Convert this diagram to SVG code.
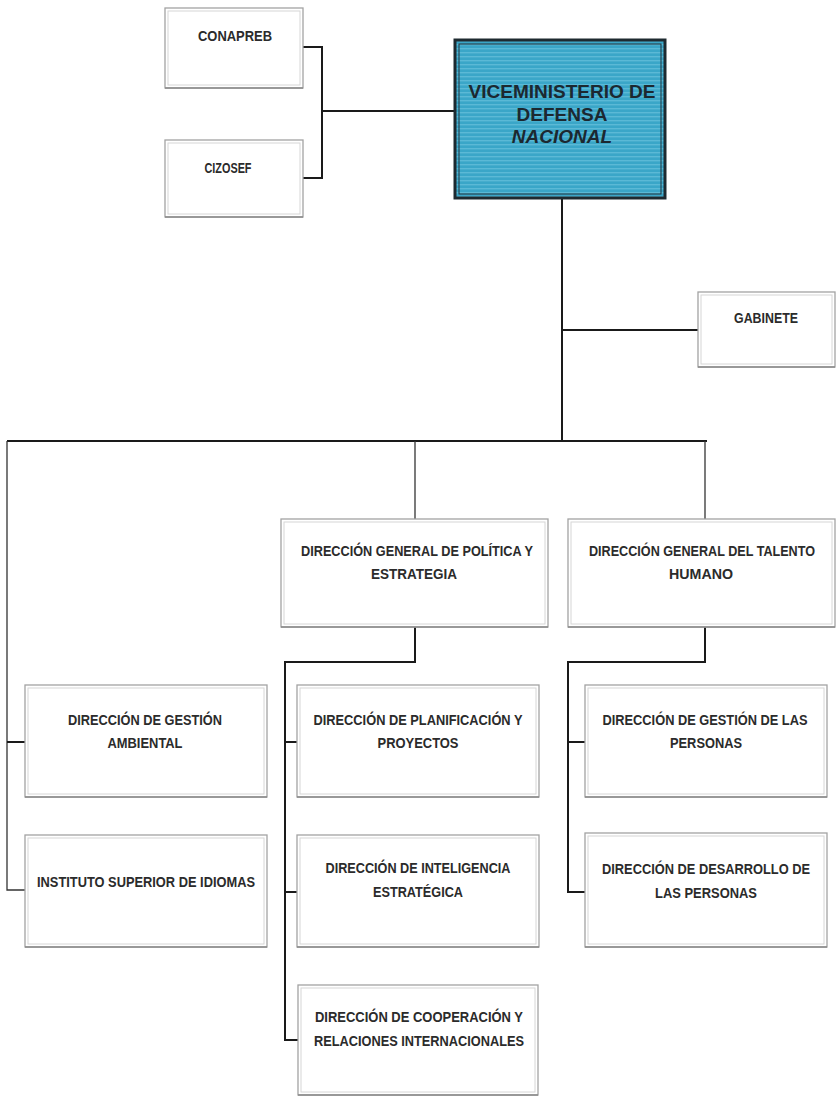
<svg xmlns="http://www.w3.org/2000/svg" width="839" height="1097" viewBox="0 0 839 1097">
<style>
.box{fill:#ffffff;stroke:#a3a3a3;stroke-width:1.3}
.inner{fill:none;stroke:#d6d6d6;stroke-width:1}
.shadow{stroke:#8a8a8a;stroke-width:1.6}
.t{font-family:"Liberation Sans",Arial,sans-serif;font-size:15px;font-weight:bold;fill:#2b2b2b;text-anchor:middle}
.s{font-size:14px}
.main{font-family:"Liberation Sans",Arial,sans-serif;font-size:19px;font-weight:bold;fill:#1c2830;text-anchor:middle}
.c{fill:none;stroke:#1a1a1a;stroke-width:2}
.ct{fill:none;stroke:#333333;stroke-width:1.3}
</style>
<defs>
<pattern id="scan" width="10" height="4" patternUnits="userSpaceOnUse">
<rect width="10" height="4" fill="#3aa6c8"/>
<rect y="0" width="10" height="1.4" fill="#5bb9d6"/>
</pattern>
</defs>
<rect width="839" height="1097" fill="#ffffff"/>
<g id="connectors">
<path class="c" d="M303 47 H322 V178 H303"/>
<path class="c" d="M322 111 H455"/>
<path class="c" d="M562 198 V441"/>
<path class="c" d="M562 330 H698"/>
<path class="c" d="M7 441 H707"/>
<path class="ct" d="M415 441 V519"/>
<path class="ct" d="M705 441 V519"/>
<path class="ct" d="M7 441 V890 H25"/>
<path class="c" d="M7 742 H25"/>
<path class="c" d="M415 627 V662 H285 V1040 H298"/>
<path class="c" d="M285 742 H297"/>
<path class="c" d="M285 892 H297"/>
<path class="c" d="M705 627 V662 H568 V892 H585"/>
<path class="c" d="M568 742 H585"/>
</g>
<g id="conapreb">
<rect class="box" x="165" y="8" width="138" height="80"/>
<rect class="inner" x="168" y="11" width="132" height="74"/>
<line class="shadow" x1="165" y1="88" x2="303" y2="88"/>
<text class="t" x="235" y="41" textLength="74" lengthAdjust="spacingAndGlyphs">CONAPREB</text>
</g>
<g id="cizosef">
<rect class="box" x="165" y="140" width="138" height="77"/>
<rect class="inner" x="168" y="143" width="132" height="71"/>
<line class="shadow" x1="165" y1="217" x2="303" y2="217"/>
<text class="t" x="228" y="173" textLength="47" lengthAdjust="spacingAndGlyphs">CIZOSEF</text>
</g>
<g id="viceministerio">
<rect x="455" y="40" width="210" height="158" fill="url(#scan)" stroke="#1e2a30" stroke-width="3"/>
<rect x="459" y="44" width="202" height="150" fill="none" stroke="#22323a" stroke-width="1"/>
<text class="main" x="562" y="98">VICEMINISTERIO DE</text>
<text class="main" x="562" y="121">DEFENSA</text>
<text class="main" x="562" y="143" font-style="italic">NACIONAL</text>
</g>
<g id="gabinete">
<rect class="box" x="698" y="292" width="137" height="75"/>
<rect class="inner" x="701" y="295" width="131" height="69"/>
<line class="shadow" x1="698" y1="367" x2="835" y2="367"/>
<text class="t" x="766" y="323" textLength="64" lengthAdjust="spacingAndGlyphs">GABINETE</text>
</g>
<g id="dg-politica">
<rect class="box" x="281" y="519" width="267" height="108"/>
<rect class="inner" x="284" y="522" width="261" height="102"/>
<line class="shadow" x1="281" y1="627" x2="548" y2="627"/>
<text class="t" x="417" y="556" textLength="232" lengthAdjust="spacingAndGlyphs">DIRECCIÓN GENERAL DE POLÍTICA Y</text>
<text class="t" x="414" y="579" textLength="86" lengthAdjust="spacingAndGlyphs">ESTRATEGIA</text>
</g>
<g id="dg-talento">
<rect class="box" x="568" y="519" width="267" height="108"/>
<rect class="inner" x="571" y="522" width="261" height="102"/>
<line class="shadow" x1="568" y1="627" x2="835" y2="627"/>
<text class="t s" x="702" y="556" textLength="226" lengthAdjust="spacingAndGlyphs">DIRECCIÓN GENERAL DEL TALENTO</text>
<text class="t" x="701" y="579" textLength="64" lengthAdjust="spacingAndGlyphs">HUMANO</text>
</g>
<g id="gestion-ambiental">
<rect class="box" x="25" y="685" width="242" height="112"/>
<rect class="inner" x="28" y="688" width="236" height="106"/>
<line class="shadow" x1="25" y1="797" x2="267" y2="797"/>
<text class="t" x="145" y="725" textLength="154" lengthAdjust="spacingAndGlyphs">DIRECCIÓN DE GESTIÓN</text>
<text class="t" x="145" y="748" textLength="75" lengthAdjust="spacingAndGlyphs">AMBIENTAL</text>
</g>
<g id="instituto-idiomas">
<rect class="box" x="25" y="835" width="242" height="112"/>
<rect class="inner" x="28" y="838" width="236" height="106"/>
<line class="shadow" x1="25" y1="947" x2="267" y2="947"/>
<text class="t" x="146" y="887" textLength="218" lengthAdjust="spacingAndGlyphs">INSTITUTO SUPERIOR DE IDIOMAS</text>
</g>
<g id="planificacion">
<rect class="box" x="297" y="685" width="242" height="112"/>
<rect class="inner" x="300" y="688" width="236" height="106"/>
<line class="shadow" x1="297" y1="797" x2="539" y2="797"/>
<text class="t" x="418" y="725" textLength="209" lengthAdjust="spacingAndGlyphs">DIRECCIÓN DE PLANIFICACIÓN Y</text>
<text class="t" x="418" y="748" textLength="81" lengthAdjust="spacingAndGlyphs">PROYECTOS</text>
</g>
<g id="inteligencia">
<rect class="box" x="297" y="835" width="242" height="112"/>
<rect class="inner" x="300" y="838" width="236" height="106"/>
<line class="shadow" x1="297" y1="947" x2="539" y2="947"/>
<text class="t" x="418" y="873" textLength="185" lengthAdjust="spacingAndGlyphs">DIRECCIÓN DE INTELIGENCIA</text>
<text class="t" x="418" y="897" textLength="90" lengthAdjust="spacingAndGlyphs">ESTRATÉGICA</text>
</g>
<g id="cooperacion">
<rect class="box" x="298" y="985" width="240" height="110"/>
<rect class="inner" x="301" y="988" width="234" height="104"/>
<line class="shadow" x1="298" y1="1095" x2="538" y2="1095"/>
<text class="t" x="419" y="1022" textLength="208" lengthAdjust="spacingAndGlyphs">DIRECCIÓN DE COOPERACIÓN Y</text>
<text class="t" x="419" y="1046" textLength="210" lengthAdjust="spacingAndGlyphs">RELACIONES INTERNACIONALES</text>
</g>
<g id="gestion-personas">
<rect class="box" x="585" y="685" width="242" height="112"/>
<rect class="inner" x="588" y="688" width="236" height="106"/>
<line class="shadow" x1="585" y1="797" x2="827" y2="797"/>
<text class="t s" x="705" y="725" textLength="205" lengthAdjust="spacingAndGlyphs">DIRECCIÓN DE GESTIÓN DE LAS</text>
<text class="t" x="706" y="748" textLength="72" lengthAdjust="spacingAndGlyphs">PERSONAS</text>
</g>
<g id="desarrollo-personas">
<rect class="box" x="585" y="833" width="242" height="114"/>
<rect class="inner" x="588" y="836" width="236" height="108"/>
<line class="shadow" x1="585" y1="947" x2="827" y2="947"/>
<text class="t s" x="706" y="874" textLength="208" lengthAdjust="spacingAndGlyphs">DIRECCIÓN DE DESARROLLO DE</text>
<text class="t" x="706" y="898" textLength="102" lengthAdjust="spacingAndGlyphs">LAS PERSONAS</text>
</g>
</svg>
